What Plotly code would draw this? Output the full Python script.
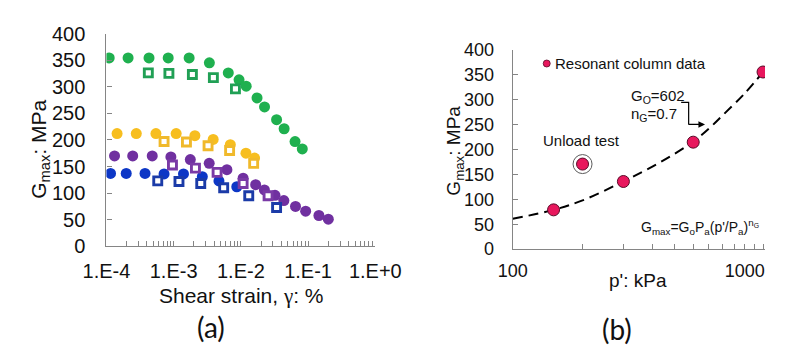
import plotly.graph_objects as go

# ---------------- panel (a): G_max vs shear strain ----------------
green_circle_x = [1.1e-4, 2.1e-4, 4.3e-4, 8.3e-4, 1.7e-3, 3.4e-3, 6.5e-3, 9.4e-3,
                  1.2e-2, 1.74e-2, 2.25e-2, 3.4e-2, 4.4e-2, 6.4e-2, 8.2e-2]
green_circle_y = [354, 354, 354, 354, 354, 345, 326, 313, 301, 279, 262, 238, 221, 197, 183]
green_square_x = [4.2e-4, 8.5e-4, 1.9e-3, 3.9e-3, 8.3e-3]
green_square_y = [326, 325, 323, 317, 296]

yellow_circle_x = [1.44e-4, 2.78e-4, 5.45e-4, 1.09e-3, 2.07e-3, 3.87e-3, 6.97e-3, 1.19e-2, 1.6e-2]
yellow_circle_y = [212, 212, 212, 212, 208, 201, 191, 175, 166]
yellow_square_x = [7.2e-4, 1.55e-3, 3.25e-3, 6.8e-3, 1.55e-2]
yellow_square_y = [197, 196, 189, 180, 156]

purple_circle_x = [1.32e-4, 2.46e-4, 4.8e-4, 9.1e-4, 1.77e-3, 3.38e-3, 6.2e-3, 1.08e-2,
                   1.66e-2, 2.24e-2, 3.22e-2, 4.36e-2, 6.5e-2, 9.2e-2, 1.45e-1, 2.0e-1]
purple_circle_y = [170, 170, 170, 168, 163, 156, 144, 128, 116, 106, 96, 86, 75, 66, 58, 51]
purple_square_x = [9.6e-4, 2.11e-3, 4.43e-3, 1.08e-2, 2.54e-2]
purple_square_y = [153, 147, 139, 118, 95]

blue_circle_x = [1.15e-4, 1.97e-4, 3.75e-4, 7.2e-4, 1.4e-3, 2.67e-3, 4.72e-3, 8.7e-3]
blue_circle_y = [137, 137, 137, 136, 136, 131, 123, 112]
blue_square_x = [5.8e-4, 1.2e-3, 2.53e-3, 5.55e-3, 1.31e-2, 3.4e-2]
blue_square_y = [123, 122, 118, 110, 95, 73]

strain_decades = [1e-4, 1e-3, 1e-2, 1e-1, 1e0]
strain_labels = ["1.E-4", "1.E-3", "1.E-2", "1.E-1", "1.E+0"]
g_ticks = [0, 50, 100, 150, 200, 250, 300, 350, 400]

# ---------------- panel (b): G_max vs mean effective stress ----------------
rc_p = [150, 300, 600, 1200]
rc_g = [79, 136, 215, 356]
unload_p = [200]
unload_g = [171]
fit_p = [100, 150, 200, 300, 400, 500, 600, 700, 800, 1000, 1200]
fit_g = [61, 79, 98, 136, 166, 192, 216, 242, 268, 313, 356]
p_major = [100, 1000]
p_major_labels = ["100", "1000"]
p_minor = [200, 300, 400, 500, 600, 700, 800, 900, 1100, 1200]

W, H = 791, 353
FONT = "Liberation Sans"
AXIS_GREY = "#858585"
RC_COLOR = "#E8175D"


def px(x):
    return x / W


def py(y):
    return 1 - y / H


fig = go.Figure()


def circles(x, y, color):
    fig.add_trace(go.Scatter(x=x, y=y, mode="markers", xaxis="x", yaxis="y",
                             marker=dict(symbol="circle", size=11, color=color,
                                         line=dict(width=0)),
                             showlegend=False, hoverinfo="skip"))


def squares(x, y, color):
    fig.add_trace(go.Scatter(x=x, y=y, mode="markers", xaxis="x", yaxis="y",
                             marker=dict(symbol="square", size=8, color="white",
                                         line=dict(width=2.9, color=color)),
                             showlegend=False, hoverinfo="skip"))


circles(green_circle_x, green_circle_y, "#1FB04F")
circles(yellow_circle_x, yellow_circle_y, "#F7BE1F")
circles(blue_circle_x, blue_circle_y, "#0D37C6")
circles(purple_circle_x, purple_circle_y, "#7030A0")
squares(green_square_x, green_square_y, "#21A055")
squares(yellow_square_x, yellow_square_y, "#F0B92B")
squares(purple_square_x, purple_square_y, "#7A3AA6")
squares(blue_square_x, blue_square_y, "#1B3BA8")

# panel (b) fitted power-law curve and measurements
fig.add_trace(go.Scatter(x=fit_p, y=fit_g, mode="lines", xaxis="x2", yaxis="y2",
                         line=dict(color="black", width=2, dash="10px,6px", shape="spline"),
                         showlegend=False, hoverinfo="skip"))
# thin ring around the unload test point
fig.add_trace(go.Scatter(x=unload_p, y=unload_g, mode="markers", xaxis="x2", yaxis="y2",
                         marker=dict(symbol="circle-open", size=19, color="#5A5A5A",
                                     line=dict(width=1)),
                         showlegend=False, hoverinfo="skip"))
fig.add_trace(go.Scatter(x=rc_p + unload_p, y=rc_g + unload_g, mode="markers",
                         xaxis="x2", yaxis="y2",
                         marker=dict(symbol="circle", size=12, color=RC_COLOR,
                                     line=dict(width=1, color="#5A0A28")),
                         showlegend=False, hoverinfo="skip"))

# minor tick positions between the labelled decades
strain_minor = [d * k for d in strain_decades[:-1] for k in range(2, 10)]

axis_common = dict(showgrid=False, zeroline=False, showline=True, linecolor=AXIS_GREY,
                   linewidth=1.3, ticks="inside", tickcolor=AXIS_GREY, tickwidth=1,
                   ticklen=5, mirror=False)
minor_common = dict(ticks="inside", ticklen=5, tickcolor=AXIS_GREY, tickwidth=1,
                    showgrid=False)

fig.update_layout(
    width=W, height=H, margin=dict(l=0, r=0, t=0, b=0, pad=0),
    paper_bgcolor="white", plot_bgcolor="white",
    font=dict(family=FONT, color="#111111"),
    xaxis=dict(**axis_common, type="log", range=[-4, 0], domain=[px(88), px(375)],
               anchor="y", tickvals=strain_decades, ticktext=strain_labels,
               minor=dict(**minor_common, tickvals=strain_minor),
               tickfont=dict(size=20), ticklabelstandoff=6),
    yaxis=dict(**axis_common, range=[0, 400], domain=[py(251), py(24)], anchor="x",
               tickvals=g_ticks, tickfont=dict(size=20), ticklabelstandoff=16),
    xaxis2=dict(**axis_common, type="log", range=[2, 2 + (W - 521.7) / 247.6],
                domain=[px(521.7), 1.0], anchor="y2", tickvals=p_major,
                ticktext=p_major_labels, minor=dict(**minor_common, tickvals=p_minor),
                tickfont=dict(size=18), ticklabelstandoff=5),
    yaxis2=dict(**axis_common, range=[0, 400], domain=[py(254), py(41.7)], anchor="x2",
                tickvals=g_ticks, tickfont=dict(size=18), ticklabelstandoff=14),
)


def label(text, x, y, size, xanchor="center", angle=0, family=FONT):
    fig.add_annotation(text=text, x=px(x), y=py(y), xref="paper", yref="paper",
                       xanchor=xanchor, yanchor="middle", showarrow=False,
                       textangle=angle, font=dict(size=size, family=family, color="#111111"))


# axis titles
label("Shear strain, <span style=\"font-family:'Liberation Serif'\">γ</span>: %", 232, 304, 21)
label("G<sub>max</sub>: MPa", 17, 147, 21, angle=-90)
label("p': kPa", 655, 287, 19)
label("G<sub>max</sub>: MPa", 460, 149, 19, angle=-90)

# panel captions
label("(a)", 200, 337, 28, family="Lato")
label("(b)", 633, 339, 28, family="Lato")

# panel (b) texts
label("Resonant column data", 565, 56, 15, xanchor="left")
label("Unload test", 595, 138, 15)
label("G<sub>O</sub>=602", 646, 91, 15, xanchor="left")
label("n<sub>G</sub>=0.7", 646, 110, 15, xanchor="left")
label("G<sub>max</sub>=G<sub>o</sub>P<sub>a</sub>(p'/P<sub>a</sub>)<sup>n<sub>G</sub></sup>",
      657, 230, 14, xanchor="left")

# legend key dot
fig.add_shape(type="circle", xref="paper", yref="paper", xsizemode="pixel",
              ysizemode="pixel", xanchor=px(558), yanchor=py(56),
              x0=-3.5, x1=3.5, y0=-3.5, y1=3.5,
              fillcolor=RC_COLOR, line=dict(color="#5A0A28", width=0.8))

# elbow leader from the fit parameters to the curve
fig.add_shape(type="path", xref="paper", yref="paper",
              path=f"M {px(701.5)},{py(97.5)} L {px(709.5)},{py(97.5)} L {px(709.5)},{py(121)}",
              line=dict(color="black", width=1.2))
fig.add_annotation(x=px(727), y=py(121), xref="paper", yref="paper", ax=-18, ay=0,
                   showarrow=True, arrowhead=2, arrowsize=1.1, arrowwidth=1.2,
                   arrowcolor="black", text="")

fig.write_html("out.html")
